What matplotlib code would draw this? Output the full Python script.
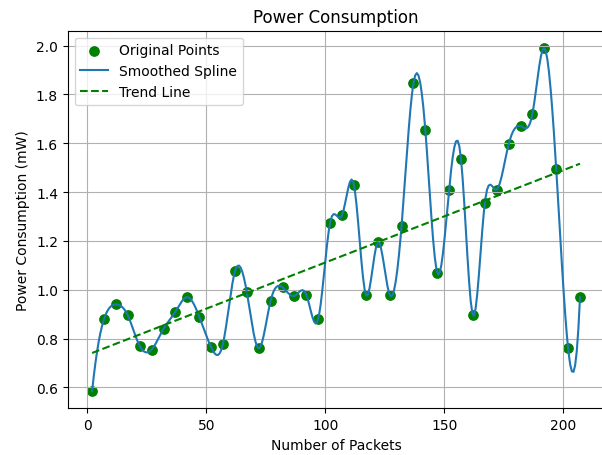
#!/usr/bin/env python3

""" Power consumption vs number of packets, with spline and trend line """

import numpy as np
import matplotlib
matplotlib.use('Agg')
import matplotlib.pyplot as plt

packets = np.arange(2, 208, 5)
power = [0.585, 0.88, 0.94, 0.895, 0.77, 0.755, 0.84, 0.91, 0.97, 0.89,
         0.765, 0.78, 1.075, 0.99, 0.76, 0.955, 1.01, 0.975, 0.98, 0.88,
         1.275, 1.305, 1.43, 0.98, 1.195, 0.98, 1.26, 1.845, 1.655, 1.07,
         1.41, 1.535, 0.895, 1.355, 1.41, 1.595, 1.67, 1.72, 1.99, 1.495,
         0.76, 0.97]


def notAKnotSpline(x, y, xNew):
    """ Cubic interpolating spline with not-a-knot ends """
    x = np.asarray(x, float)
    y = np.asarray(y, float)
    n = len(x)
    h = np.diff(x)
    A = np.zeros((n, n))
    b = np.zeros(n)
    A[0, 0], A[0, 1], A[0, 2] = h[1], -(h[0] + h[1]), h[0]
    A[-1, -3], A[-1, -2], A[-1, -1] = h[-1], -(h[-2] + h[-1]), h[-2]
    for i in range(1, n - 1):
        A[i, i - 1] = h[i - 1]
        A[i, i] = 2 * (h[i - 1] + h[i])
        A[i, i + 1] = h[i]
        b[i] = 6 * ((y[i + 1] - y[i]) / h[i] - (y[i] - y[i - 1]) / h[i - 1])
    M = np.linalg.solve(A, b)
    idx = np.clip(np.searchsorted(x, xNew) - 1, 0, n - 2)
    x0, x1 = x[idx], x[idx + 1]
    hh = h[idx]
    return (M[idx] * (x1 - xNew) ** 3 / (6 * hh)
            + M[idx + 1] * (xNew - x0) ** 3 / (6 * hh)
            + (y[idx] / hh - M[idx] * hh / 6) * (x1 - xNew)
            + (y[idx + 1] / hh - M[idx + 1] * hh / 6) * (xNew - x0))


fig, ax = plt.subplots(figsize=(6.02, 4.56), dpi=100)
# Right spine falls just outside the picture in the reference
fig.subplots_adjust(left=0.1125, right=1.004, bottom=0.1024, top=0.9305)

xSmooth = np.linspace(packets.min(), packets.max(), 300)
ySmooth = notAKnotSpline(packets, power, xSmooth)
slope, intercept = np.polyfit(packets, power, 1)

ax.scatter(packets, power, color='green', s=45, label='Original Points')
ax.plot(xSmooth, ySmooth, label='Smoothed Spline')
ax.plot(packets, slope * packets + intercept, 'g--', label='Trend Line')

ax.set_title('Power Consumption')
ax.set_xlabel('Number of Packets')
ax.set_ylabel('Power Consumption (mW)')
ax.legend(loc='upper left')
ax.grid(True)
fig.savefig('out.png', dpi=100)
